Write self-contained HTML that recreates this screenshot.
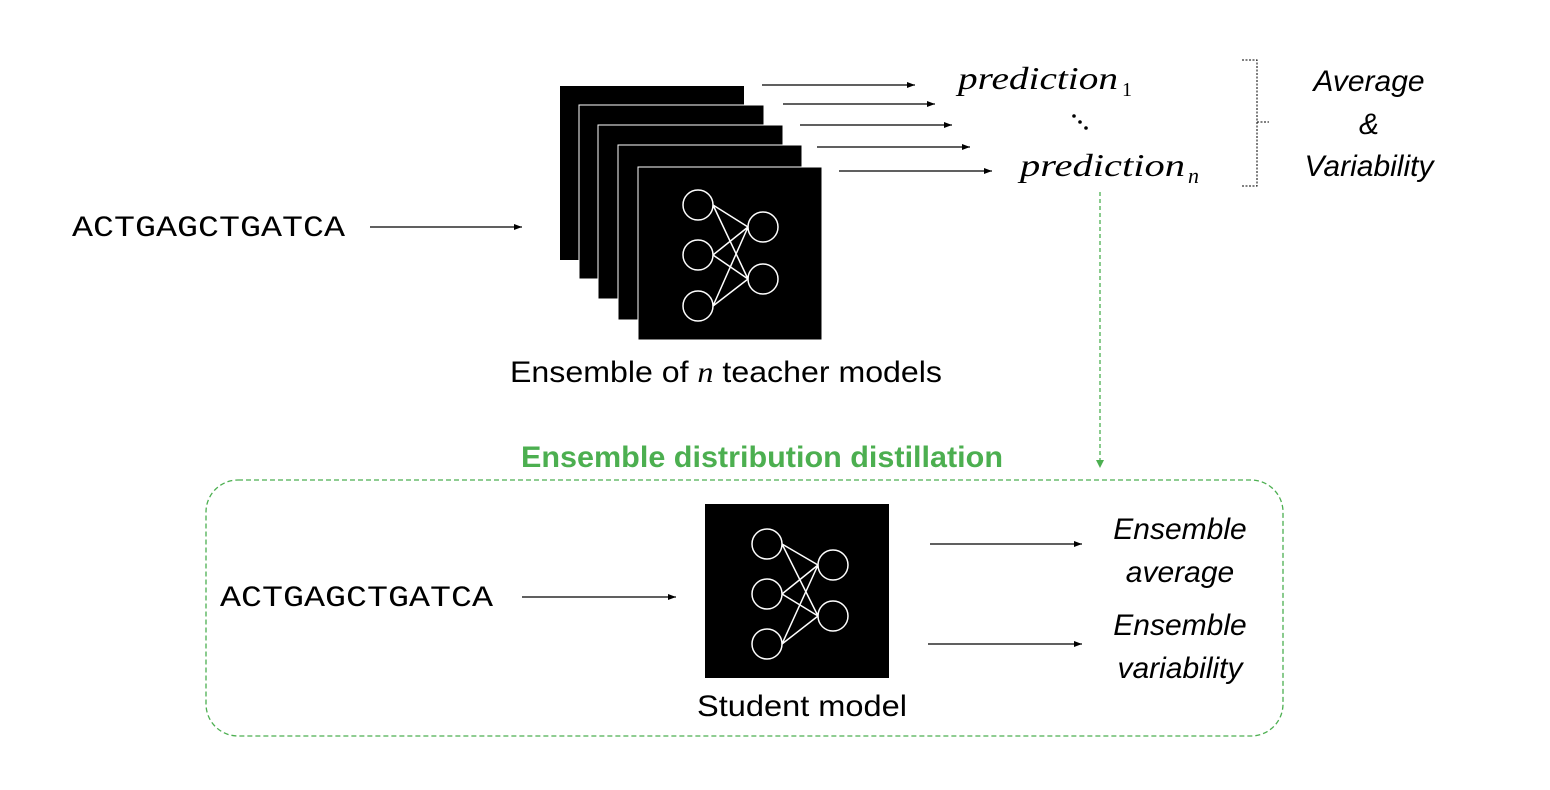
<!DOCTYPE html>
<html><head><meta charset="utf-8"><style>body{margin:0;background:#fff}svg{display:block}</style></head><body>
<svg width="1550" height="790" viewBox="0 0 1550 790" xmlns="http://www.w3.org/2000/svg">
<defs><marker id="a" markerWidth="8" markerHeight="6" refX="8" refY="3" orient="auto" markerUnits="userSpaceOnUse"><path d="M0,0 L8,3 L0,6z" fill="#000"/></marker></defs>
<g stroke="#fff" stroke-width="1">
<rect x="560" y="86" width="184" height="174" fill="#000" stroke="none"/>
<rect x="579" y="105" width="185" height="174" fill="#000"/>
<rect x="598" y="125" width="185" height="174" fill="#000"/>
<rect x="618" y="145" width="184" height="175" fill="#000"/>
<rect x="638" y="167" width="184" height="173" fill="#000"/>
</g>
<g stroke="#fff" stroke-width="1.5" fill="none">
<line x1="713" y1="205" x2="748" y2="227"/><line x1="713" y1="205" x2="748" y2="279"/>
<line x1="713" y1="255" x2="748" y2="227"/><line x1="713" y1="255" x2="748" y2="279"/>
<line x1="713" y1="306" x2="748" y2="227"/><line x1="713" y1="306" x2="748" y2="279"/>
<circle cx="698" cy="205" r="15"/><circle cx="698" cy="255" r="15"/><circle cx="698" cy="306" r="15"/>
<circle cx="763" cy="227" r="15"/><circle cx="763" cy="279" r="15"/>
</g>
<rect x="705" y="504" width="184" height="174" fill="#000"/>
<g stroke="#fff" stroke-width="1.5" fill="none">
<line x1="782" y1="544" x2="818" y2="565"/><line x1="782" y1="544" x2="818" y2="616"/>
<line x1="782" y1="594" x2="818" y2="565"/><line x1="782" y1="594" x2="818" y2="616"/>
<line x1="782" y1="644" x2="818" y2="565"/><line x1="782" y1="644" x2="818" y2="616"/>
<circle cx="767" cy="544" r="15"/><circle cx="767" cy="594" r="15"/><circle cx="767" cy="644" r="15"/>
<circle cx="833" cy="565" r="15"/><circle cx="833" cy="616" r="15"/>
</g>
<g stroke="#000" stroke-width="1.3" marker-end="url(#a)">
<line x1="762" y1="85" x2="915" y2="85"/><line x1="783" y1="104" x2="935" y2="104"/>
<line x1="800" y1="125" x2="952" y2="125"/><line x1="817" y1="147" x2="970" y2="147"/>
<line x1="839" y1="171" x2="992" y2="171"/>
<line x1="370" y1="227" x2="522" y2="227"/>
<line x1="522" y1="597" x2="676" y2="597"/>
<line x1="930" y1="544" x2="1082" y2="544"/><line x1="928" y1="644" x2="1082" y2="644"/>
</g>
<path d="M1242,60 h15 v62 h12 M1257,122 v64 h-15" fill="none" stroke="#000" stroke-width="1" stroke-dasharray="2,1.5"/>
<line x1="1100" y1="192" x2="1100" y2="462" stroke="#4caf50" stroke-width="1.3" stroke-dasharray="4,3"/>
<path d="M1096,460 L1100,468 L1104,460z" fill="#4caf50"/>
<rect x="206" y="480" width="1077" height="256" rx="32" fill="none" stroke="#4caf50" stroke-width="1.3" stroke-dasharray="5,3"/>
<g font-family="Liberation Mono, monospace" font-size="30" fill="#000">
<text x="72" y="236" textLength="273" lengthAdjust="spacingAndGlyphs">ACTGAGCTGATCA</text><text x="220" y="606" textLength="273" lengthAdjust="spacingAndGlyphs">ACTGAGCTGATCA</text></g>
<g font-family="Liberation Serif, serif" font-style="italic" font-size="32" fill="#000">
<text x="958" y="89" textLength="160" lengthAdjust="spacingAndGlyphs">prediction</text><text x="1122" y="96" font-size="20" font-style="normal">1</text>
<text x="1020" y="176" textLength="165" lengthAdjust="spacingAndGlyphs">prediction</text><text x="1188" y="183" font-size="22">n</text>
</g>
<g fill="#000"><circle cx="1074" cy="116" r="1.8"/><circle cx="1080" cy="122" r="1.8"/><circle cx="1086" cy="128" r="1.8"/></g>
<g font-family="Liberation Sans, sans-serif" font-size="30" fill="#000" text-anchor="middle">
<text x="1369" y="91" font-style="italic">Average</text>
<text x="1369" y="134" font-style="italic">&amp;</text>
<text x="1369" y="176" font-style="italic">Variability</text>
<text x="1180" y="539" font-style="italic">Ensemble</text>
<text x="1180" y="582" font-style="italic">average</text>
<text x="1180" y="635" font-style="italic">Ensemble</text>
<text x="1180" y="678" font-style="italic">variability</text>
</g>
<g font-family="Liberation Sans, sans-serif" font-size="30" fill="#000">
<text x="510" y="382" textLength="432" lengthAdjust="spacingAndGlyphs">Ensemble of <tspan font-family="Liberation Serif, serif" font-style="italic">n</tspan> teacher models</text>
<text x="697" y="716" textLength="210" lengthAdjust="spacingAndGlyphs">Student model</text>
<text x="521" y="467" fill="#4caf50" font-weight="bold" textLength="482" lengthAdjust="spacingAndGlyphs">Ensemble distribution distillation</text>
</g>
</svg>
</body></html>
